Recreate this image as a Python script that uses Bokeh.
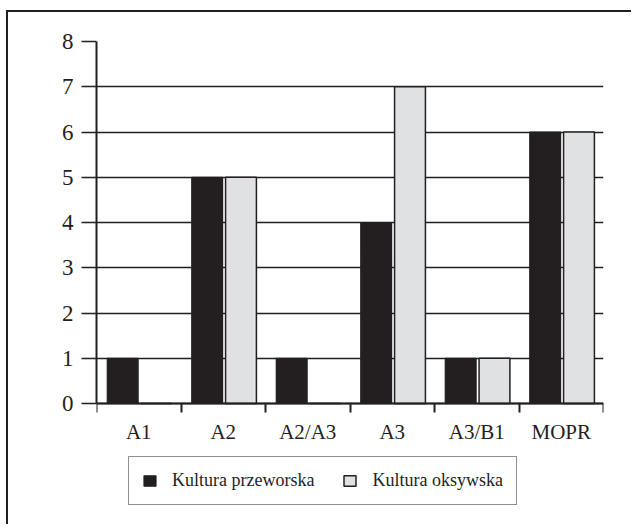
from bokeh.plotting import figure
from bokeh.models import Range1d, FixedTicker, Legend, LegendItem, ColumnDataSource
from bokeh.transform import dodge
from bokeh.embed import file_html
from bokeh.resources import INLINE

categories = ["A1", "A2", "A2/A3", "A3", "A3/B1", "MOPR"]
przeworska = [1, 5, 1, 4, 1, 6]
oksywska = [0, 5, 0, 7, 1, 6]
series_names = ["Kultura przeworska", "Kultura oksywska"]
y_ticks = [0, 1, 2, 3, 4, 5, 6, 7, 8]

INK = "#231f20"
GRAY = "#e0e1e3"
FONT = "Liberation Serif"

centers = [i + 0.5 for i in range(len(categories))]
src = ColumnDataSource(dict(x=centers, p=przeworska, o=oksywska))

# frame spans from the top tick (8) down to below the legend; 0 sits 109px above frame bottom
Y_MAX = 8
Y_MIN = -109.0 / 362.0 * Y_MAX

p = figure(width=625, height=514, output_backend="svg", toolbar_location=None,
           x_range=Range1d(0, len(categories)), y_range=Range1d(Y_MIN, Y_MAX),
           min_border_left=88, min_border_right=30, min_border_top=29, min_border_bottom=14)
p.outline_line_color = None
p.background_fill_color = "white"
p.border_fill_color = "white"
p.styles = {"border-top": "2px solid " + INK, "border-left": "2px solid " + INK,
            "margin-top": "10px", "margin-left": "6px"}

r1 = p.vbar(x=dodge("x", -0.19, range=p.x_range), top="p", width=0.365, source=src,
            fill_color=INK, line_color=INK, line_width=1.2)
r2 = p.vbar(x=dodge("x", 0.21, range=p.x_range), top="o", width=0.365, source=src,
            fill_color=GRAY, line_color=INK, line_width=1.5)

# x axis (fixed at y = 0)
xa = p.xaxis[0]
xa.fixed_location = 0
xa.ticker = FixedTicker(ticks=centers, minor_ticks=list(range(len(categories) + 1)))
xa.major_label_overrides = {c: lab for c, lab in zip(centers, categories)}
xa.major_tick_line_color = None
xa.major_tick_in = 0
xa.major_tick_out = 9
xa.minor_tick_in = 0
xa.minor_tick_out = 9
xa.minor_tick_line_color = INK
xa.minor_tick_line_width = 2
xa.axis_line_color = INK
xa.axis_line_width = 2
xa.major_label_text_font = FONT
xa.major_label_text_font_size = "21px"
xa.major_label_text_color = INK
xa.major_label_standoff = 7

# y axis
ya = p.yaxis[0]
ya.bounds = (0, Y_MAX)
ya.ticker = FixedTicker(ticks=y_ticks)
ya.minor_tick_line_color = None
ya.major_tick_in = 0
ya.major_tick_out = 15
ya.major_tick_line_color = INK
ya.major_tick_line_width = 1.5
ya.axis_line_color = INK
ya.axis_line_width = 2
ya.major_label_text_font = FONT
ya.major_label_text_font_size = "23px"
ya.major_label_text_color = INK
ya.major_label_standoff = 8

p.xgrid.grid_line_color = None
p.ygrid.grid_line_color = INK
p.ygrid.grid_line_width = 1.5
p.ygrid.ticker = FixedTicker(ticks=y_ticks)

legend = Legend(items=[LegendItem(label=series_names[0], renderers=[r1]),
                       LegendItem(label=series_names[1], renderers=[r2])],
                location=(32, 7), orientation="horizontal")
legend.label_text_font = FONT
legend.label_text_font_size = "18px"
legend.label_text_color = INK
legend.glyph_width = 15
legend.glyph_height = 13
legend.label_standoff = 15
legend.spacing = 28
legend.padding = 13
legend.margin = 0
legend.border_line_color = INK
legend.border_line_width = 1.2
legend.background_fill_color = "white"
legend.background_fill_alpha = 1
p.add_layout(legend, "center")

open("out.html", "w").write(file_html(p, INLINE))
